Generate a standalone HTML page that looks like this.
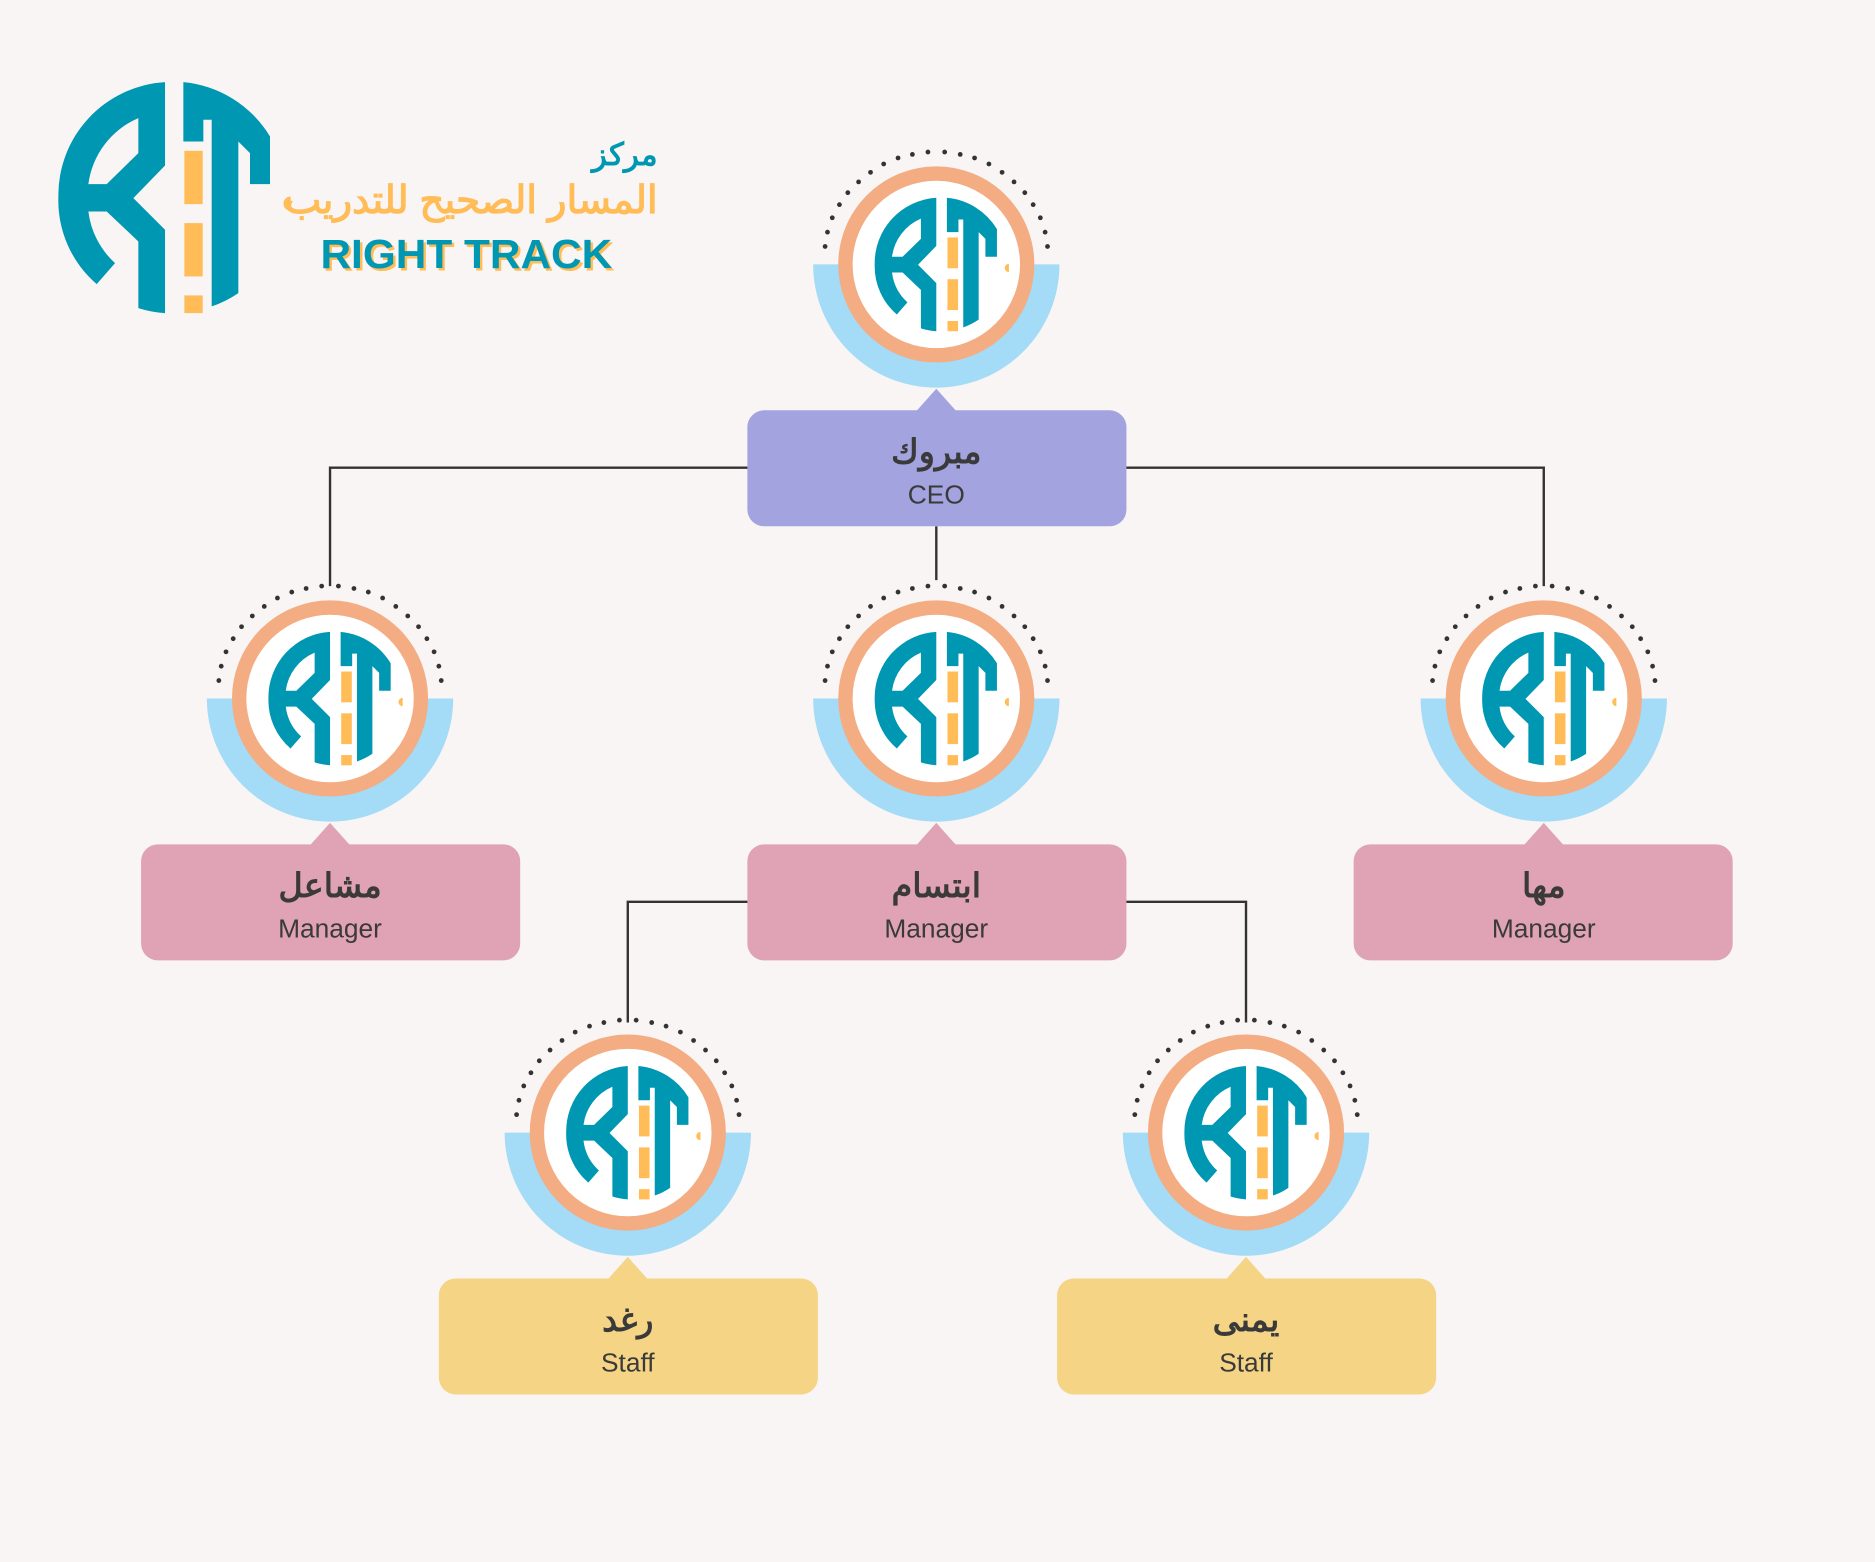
<!DOCTYPE html>
<html><head><meta charset="utf-8"><style>
html,body{margin:0;padding:0;background:#f8f5f4;}
svg{display:block;}
.nm{font-family:"Liberation Sans","Noto Sans CJK SC",sans-serif;font-weight:bold;font-size:28px;fill:#3a3a3a;text-anchor:middle;}
.rl{font-family:"Liberation Sans",sans-serif;font-size:22px;fill:#3a3a3a;text-anchor:middle;}
</style></head><body>
<svg width="1875" height="1562" viewBox="0 0 1568 1306" xmlns="http://www.w3.org/2000/svg">
<defs>
<g id="logo">
<g transform="translate(-345,-368)">
<path fill="#0097b2" fill-rule="evenodd" d="M345,22 A340,340 0 0 0 25,368 A330,330 0 0 0 140,628 L195,565 A250,250 0 0 1 115,410 L170,410 L265,500 L265,700 A330,330 0 0 0 345,715 L345,465 L250,370 L345,272 Z M115,328 L170,328 L265,235 L265,130 A250,250 0 0 0 115,328 Z"/>
<path fill="#0097b2" d="M400,22 A340,340 0 0 1 660,185 L660,328 L600,328 L600,235 L565,200 L565,655 A330,330 0 0 1 485,695 L485,135 L460,135 L460,200 L400,200 Z"/>
<rect fill="#ffbc57" x="403" y="228" width="55" height="160"/>
<rect fill="#ffbc57" x="403" y="445" width="55" height="160"/>
<rect fill="#ffbc57" x="403" y="662" width="55" height="53"/>
<path fill="#ffbc57" d="M722,365 A20,20 0 0 0 722,408 Z"/>
</g>
</g>
<g id="node">
<path d="M -103,0 L 103,0 A103,103 0 0 1 -103,0 Z" fill="#a4dbf6"/>
<circle r="76" fill="#fff" stroke="#f4ac82" stroke-width="12"/>
<use href="#logo" transform="scale(0.161)"/>
<g fill="#333">
<circle cx="-93" cy="-15" r="2"/><circle cx="-91" cy="-27" r="2"/><circle cx="-87" cy="-39" r="2"/><circle cx="-81" cy="-50" r="2"/><circle cx="-74" cy="-60" r="2"/><circle cx="-65" cy="-69" r="2"/><circle cx="-55" cy="-77" r="2"/><circle cx="-44" cy="-84" r="2"/><circle cx="-32" cy="-89" r="2"/><circle cx="-20" cy="-92" r="2"/><circle cx="-7" cy="-94" r="2"/><circle cx="7" cy="-94" r="2"/><circle cx="20" cy="-92" r="2"/><circle cx="32" cy="-89" r="2"/><circle cx="44" cy="-84" r="2"/><circle cx="55" cy="-77" r="2"/><circle cx="65" cy="-69" r="2"/><circle cx="74" cy="-60" r="2"/><circle cx="81" cy="-50" r="2"/><circle cx="87" cy="-39" r="2"/><circle cx="91" cy="-27" r="2"/><circle cx="93" cy="-15" r="2"/>
</g>
</g>
</defs>
<rect width="1568" height="1306" fill="#f8f5f4"/>
<g stroke="#333" stroke-width="2" fill="none">
<path d="M276,490 V391 H1291 V490"/>
<path d="M783,440 V485"/>
<path d="M525,855 V754 H1042 V855"/>
</g>
<use href="#logo" transform="translate(138,165) scale(0.2787)"/>
<text x="550" y="138" text-anchor="end" font-family="Liberation Sans,Noto Sans CJK SC,sans-serif" font-weight="bold" font-size="26" fill="#0097b2">مركز</text>
<text x="550" y="178" text-anchor="end" font-family="Liberation Sans,Noto Sans CJK SC,sans-serif" font-weight="bold" font-size="32" fill="#ffbc57" textLength="312" lengthAdjust="spacingAndGlyphs">المسار الصحيح للتدريب</text>
<text x="270" y="226" font-family="Liberation Sans,sans-serif" font-weight="bold" font-size="34" fill="#ffbc57" textLength="244" lengthAdjust="spacingAndGlyphs">RIGHT TRACK</text>
<text x="268" y="224" font-family="Liberation Sans,sans-serif" font-weight="bold" font-size="34" fill="#0097b2" textLength="244" lengthAdjust="spacingAndGlyphs">RIGHT TRACK</text>

<use href="#node" transform="translate(783,221)"/>
<rect x="625" y="343" width="317" height="97" rx="14" fill="#a3a3df"/>
<path d="M766,344 L783,325 L800,344 Z" fill="#a3a3df"/>
<text class="nm" x="783" y="387">مبروك</text><text class="rl" x="783" y="421">CEO</text>

<use href="#node" transform="translate(276,584)"/>
<rect x="118" y="706" width="317" height="97" rx="14" fill="#e0a3b5"/>
<path d="M259,707 L276,688 L293,707 Z" fill="#e0a3b5"/>
<text class="nm" x="276" y="750">مشاعل</text><text class="rl" x="276" y="784">Manager</text>

<use href="#node" transform="translate(783,584)"/>
<rect x="625" y="706" width="317" height="97" rx="14" fill="#e0a3b5"/>
<path d="M766,707 L783,688 L800,707 Z" fill="#e0a3b5"/>
<text class="nm" x="783" y="750">ابتسام</text><text class="rl" x="783" y="784">Manager</text>

<use href="#node" transform="translate(1291,584)"/>
<rect x="1132" y="706" width="317" height="97" rx="14" fill="#e0a3b5"/>
<path d="M1274,707 L1291,688 L1308,707 Z" fill="#e0a3b5"/>
<text class="nm" x="1291" y="750">مها</text><text class="rl" x="1291" y="784">Manager</text>

<use href="#node" transform="translate(525,947)"/>
<rect x="367" y="1069" width="317" height="97" rx="14" fill="#f5d585"/>
<path d="M508,1070 L525,1051 L542,1070 Z" fill="#f5d585"/>
<text class="nm" x="525" y="1113">رغد</text><text class="rl" x="525" y="1147">Staff</text>

<use href="#node" transform="translate(1042,947)"/>
<rect x="884" y="1069" width="317" height="97" rx="14" fill="#f5d585"/>
<path d="M1025,1070 L1042,1051 L1059,1070 Z" fill="#f5d585"/>
<text class="nm" x="1042" y="1113">يمنى</text><text class="rl" x="1042" y="1147">Staff</text>
</svg>
</body></html>
